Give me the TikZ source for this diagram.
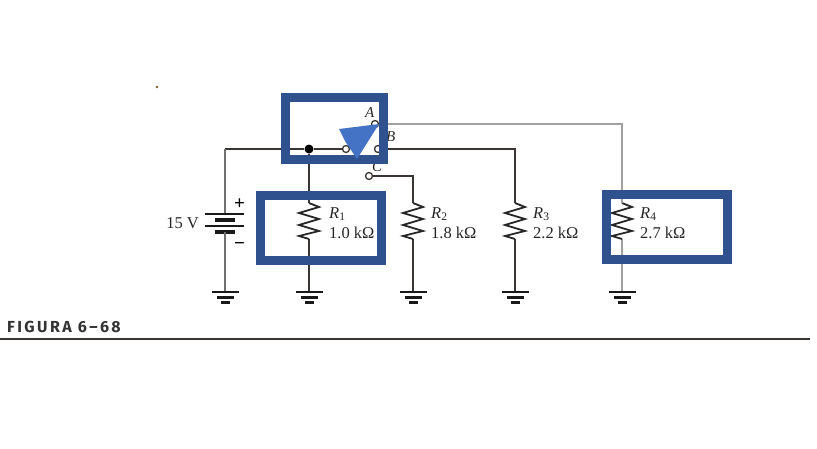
\documentclass[tikz,border=0pt]{standalone}
\usepackage{fontspec}
\setmainfont{Liberation Serif}
\newfontfamily\figfont[LetterSpace=15]{Fira Sans}
\usepackage{tikz}
\definecolor{wirecol}{HTML}{3A3532}
\definecolor{grayline}{HTML}{A0A0A0}
\definecolor{framecol}{HTML}{2F528F}
\definecolor{pointercol}{HTML}{4472C4}
\tikzset{
  wire/.style={line width=1.5pt, wirecol},
  graywire/.style={line width=2.4pt, grayline},
  resline/.style={line width=1.8pt, black!85, line join=miter},
  frame/.style={draw=framecol, line width=9pt, line join=miter},
  terminal/.style={circle, draw=wirecol, line width=1.3pt, fill=white, inner sep=0pt, minimum size=7pt},
  lab/.style={inner sep=0pt, font=\fontsize{16.5}{18}\selectfont, text=black!85, anchor=west},
  ground/.pic={
    \draw[line width=2.6pt, black!90] (-13.5,0) -- (13.5,0);
    \draw[line width=2.6pt, black!90] (-8.5,5.5) -- (8.5,5.5);
    \draw[line width=2.6pt, black!90] (-4.5,10.5) -- (4.5,10.5);
  },
  zigzag/.pic={
    \draw[resline] (0,-18) -- (10,-14) -- (-10,-8) -- (10,-2) -- (-10,4) -- (10,10) -- (-10,15) -- (0,18);
  }
}
\begin{document}
\begin{tikzpicture}[x=1pt, y=-1pt]
  \useasboundingbox (0,0) rectangle (817,448);
  % switch terminals
  \node[terminal] (com) at (346,149) {};
  \node[terminal] (tA) at (375,124) {};
  \node[terminal] (tB) at (378,149) {};
  \node[terminal] (tC) at (369,176) {};
  \node[circle, fill=black, inner sep=0pt, minimum size=9pt] (junc) at (309,149) {};
  % battery
  \coordinate (batTop) at (225,214);
  \coordinate (batBot) at (225,232);
  \coordinate (batCorner) at (225,149);
  \draw[wire] (com) -- (junc) -- (batCorner);
  \draw[wire, grayline!70!black] (batCorner) -- (batTop);
  \draw[line width=2.4pt, black!90] (205,214) -- (244,214);
  \draw[line width=4pt, black!90] (215,220) -- (235,220);
  \draw[line width=2.4pt, black!90] (205,226) -- (244,226);
  \draw[line width=4pt, black!90] (215,232) -- (235,232);
  \coordinate (gndB) at (225,292);
  \draw[wire, grayline!70!black] (batBot) -- (gndB);
  \pic at (gndB) {ground};
  \node[lab, anchor=east] (batV) at (199,223) {15 V};
  \node[inner sep=0pt, font=\bfseries\fontsize{19}{20}\selectfont] (plus) at (239.5,204) {+};
  \node[inner sep=0pt, font=\bfseries\fontsize{19}{20}\selectfont] (minus) at (239.5,246) {\textminus};
  % resistors
  \foreach \name/\xx/\val/\lx/\wc in {1/309/1.0/329/wirecol, 2/413/1.8/431/wirecol, 3/515/2.2/533/wirecol, 4/622/2.7/640/grayline} {
    \coordinate (r\name) at (\xx,221);
    \coordinate (g\name) at (\xx,292);
    \coordinate (rt\name) at (\xx,203);
    \coordinate (rb\name) at (\xx,239);
    \draw[wire, draw=\wc] (rb\name) -- (g\name);
    \pic at (r\name) {zigzag};
    \pic at (g\name) {ground};
    \node[lab] (Rn\name) at (\lx,214) {\textit{R}\textsubscript{\name}};
    \node[lab] (Rv\name) at (\lx,233) {\val{} kΩ};
  }
  % wires to the switch
  \draw[wire] (junc) -- (rt1);
  \coordinate (cC) at (413,176);
  \draw[wire] (tC) -- (cC) -- (rt2);
  \coordinate (cB) at (515,149);
  \draw[wire] (tB) -- (cB) -- (rt3);
  \coordinate (cA) at (622,124);
  \draw[graywire] (tA) -- (cA) -- (rt4);
  \node[lab, font=\fontsize{15}{16}\selectfont\itshape] (la) at (365,113) {A};
  \node[lab, font=\fontsize{15}{16}\selectfont\itshape] (lb) at (386,137) {B};
  \node[lab, font=\fontsize{15}{16}\selectfont\itshape] (lc) at (372,167) {C};
  % frames and pointer
  \draw[frame] (285.5,97.5) rectangle (383.5,159.5);
  \draw[frame] (260.5,195.5) rectangle (381.5,260.5);
  \draw[frame] (606.5,194.5) rectangle (727.5,259.5);
  \fill[pointercol] (339,129) -- (379,124) -- (357,159) -- (345,141) -- cycle;
  % caption
  \node[inner sep=0pt, anchor=west, text=black!80, font=\figfont\bfseries\fontsize{16}{17}\selectfont] (cap) at (7,327) {FIGURA 6–68};
  \coordinate (ruleL) at (0,339);
  \coordinate (ruleR) at (810,339);
  \draw[line width=1.5pt, wirecol] (ruleL) -- (ruleR);
  \fill[brown!70!black] (157,87) circle (1.3);
\end{tikzpicture}
\end{document}
